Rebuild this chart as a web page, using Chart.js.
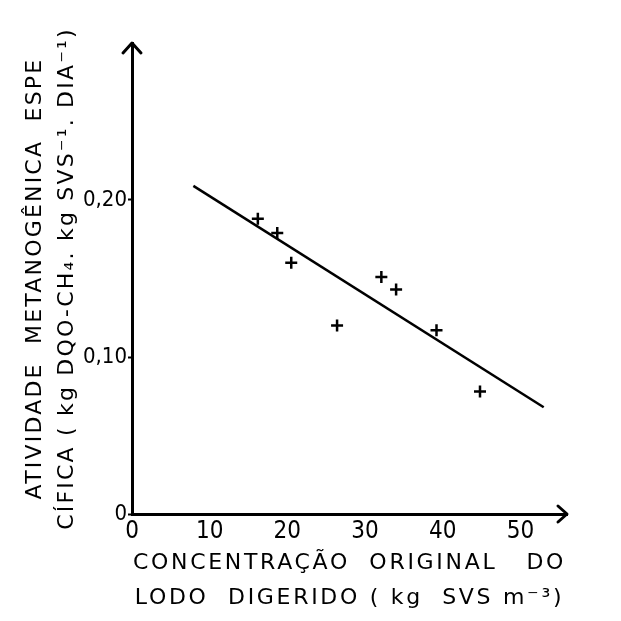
<!DOCTYPE html>
<html><head><meta charset="utf-8">
<script src="https://cdn.jsdelivr.net/npm/chart.js@4/dist/chart.umd.min.js"></script>
<style>html,body{margin:0;padding:0;background:#fff}</style>
</head><body>
<canvas id="c" width="621" height="621"></canvas>
<script>
// Data
const concentration = [16.2, 18.7, 20.5, 26.4, 32.1, 34.0, 39.2, 44.8];
const activity      = [0.188, 0.179, 0.160, 0.120, 0.151, 0.143, 0.117, 0.078];
const fitX = [7.9, 53.0];
const fitY = [0.209, 0.068];
const xTicks = [0, 10, 20, 30, 40, 50];
const xTickLabels = ['0', '10', '20', '30', '40', '50'];
const yTicks = [0, 0.10, 0.20];
const yTickLabels = ['0', '0,10', '0,20'];
const xTitle = ['CONCENTRAÇÃO  ORIGINAL   DO', 'LODO  DIGERIDO ( kg  SVS m⁻³)'];
const yTitle = ['ATIVIDADE  METANOGÊNICA  ESPE', 'CÍFICA ( kg DQO-CH₄. kg SVS⁻¹. DIA⁻¹)'];

const FONT = "'DejaVu Sans', sans-serif";
const TICKFONT = "'DejaVu Sans Condensed', 'Liberation Sans Narrow', 'DejaVu Sans', sans-serif";
const ink = '#000';
const titleSpacing = { x: '2.7px', y: '2.2px' };

// apply letter spacing only while each axis title is drawn
const spacingPlugin = {
  id: 'spacing',
  beforeDraw(chart) {
    chart.ctx.letterSpacing = '0px';
    for (const id of ['x', 'y']) {
      const s = chart.scales[id];
      if (!s || s._wrappedTitle) continue;
      const orig = s.drawTitle;
      s.drawTitle = function () {
        const ctx = this.ctx;
        ctx.letterSpacing = titleSpacing[id];
        orig.call(this);
        ctx.letterSpacing = '0px';
      };
      s._wrappedTitle = true;
    }
  }
};

const arrowPlugin = {
  id: 'arrows',
  afterDraw(chart) {
    const {ctx, chartArea: a} = chart;
    ctx.save();
    ctx.strokeStyle = ink;
    ctx.lineWidth = 3;
    ctx.lineCap = 'round';
    ctx.lineJoin = 'round';
    ctx.beginPath();
    ctx.moveTo(a.left - 9, a.top + 10);
    ctx.lineTo(a.left, a.top);
    ctx.lineTo(a.left + 9, a.top + 10);
    ctx.stroke();
    ctx.beginPath();
    ctx.moveTo(a.right - 9, a.bottom - 8);
    ctx.lineTo(a.right, a.bottom);
    ctx.lineTo(a.right - 9, a.bottom + 8);
    ctx.stroke();
    ctx.restore();
  }
};

new Chart(document.getElementById('c'), {
  type: 'scatter',
  data: {
    datasets: [
      {
        label: 'dados',
        data: concentration.map((x, i) => ({x, y: activity[i]})),
        pointStyle: 'cross',
        pointRadius: 6,
        pointBorderWidth: 2.5,
        borderColor: ink,
        backgroundColor: ink,
        showLine: false
      },
      {
        label: 'ajuste',
        data: fitX.map((x, i) => ({x, y: fitY[i]})),
        showLine: true,
        borderColor: ink,
        borderWidth: 2.5,
        pointRadius: 0,
        fill: false
      }
    ]
  },
  options: {
    responsive: false,
    animation: false,
    devicePixelRatio: 1,
    layout: { padding: { left: 0, right: 54, top: 43, bottom: 0 } },
    plugins: { legend: { display: false }, tooltip: { enabled: false } },
    scales: {
      x: {
        type: 'linear',
        min: 0, max: 56,
        afterBuildTicks(s) { s.ticks = xTicks.map(v => ({value: v})); },
        afterFit(s) { s.height = 107; },
        grid: { display: false, drawTicks: false },
        border: { display: true, color: ink, width: 3 },
        ticks: {
          color: ink, padding: 3,
          font: { family: TICKFONT, size: 24 },
          callback: (v) => { const i = xTicks.indexOf(v); return i >= 0 ? xTickLabels[i] : ''; }
        },
        title: {
          display: true, text: xTitle, color: ink,
          font: { family: FONT, size: 22, lineHeight: 1.6 },
          padding: { top: 0, bottom: 5 }
        }
      },
      y: {
        type: 'linear',
        min: 0, max: 0.30,
        afterBuildTicks(s) { s.ticks = yTicks.map(v => ({value: v})); },
        afterFit(s) { s.width = 132; },
        grid: { display: true, drawOnChartArea: false, drawTicks: true, tickLength: 4, color: ink, tickWidth: 2 },
        border: { display: true, color: ink, width: 3 },
        ticks: {
          color: ink, padding: 1,
          font: { family: TICKFONT, size: 22 },
          callback: (v) => { const i = yTicks.findIndex(t => Math.abs(t - v) < 1e-9); return i >= 0 ? yTickLabels[i] : ''; }
        },
        title: {
          display: true, text: yTitle, color: ink,
          font: { family: FONT, size: 22, lineHeight: 1.45 },
          padding: { top: 19, bottom: 0 }
        }
      }
    }
  },
  plugins: [spacingPlugin, arrowPlugin]
});
</script>
</body></html>
